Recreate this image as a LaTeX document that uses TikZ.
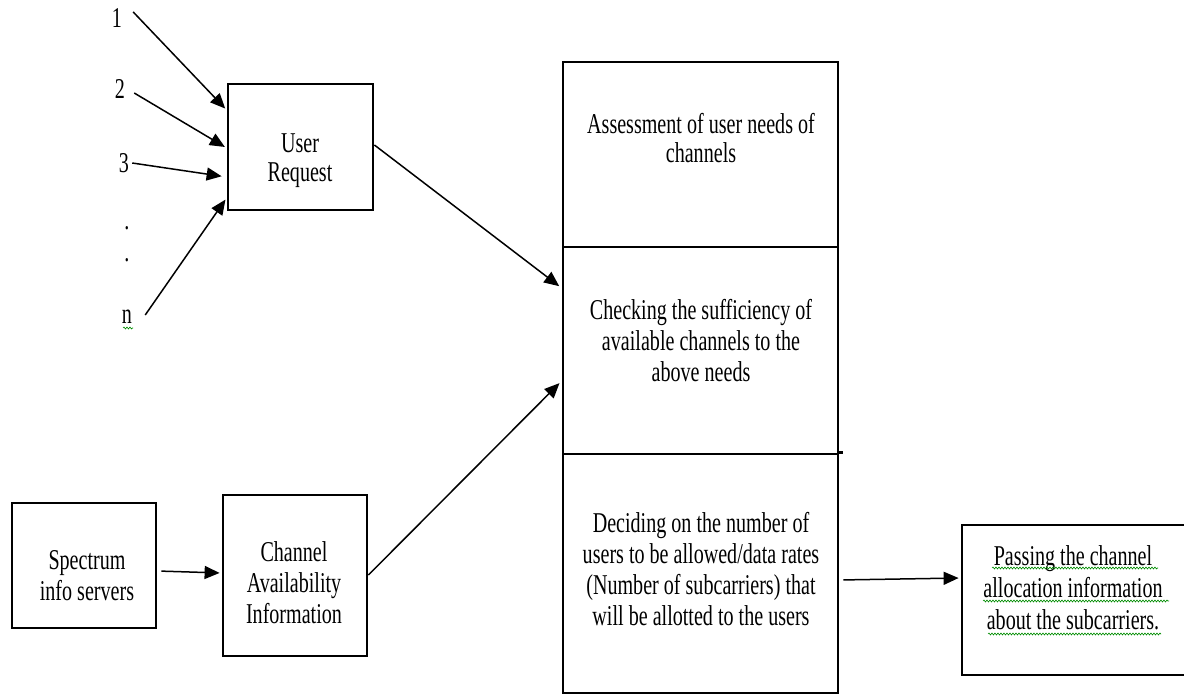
\documentclass[tikz,border=0pt]{standalone}
\usepackage{fontspec}
\setmainfont{Liberation Serif}[FakeStretch=0.7]
\usetikzlibrary{arrows.meta,decorations.pathmorphing}

\begin{document}
\begin{tikzpicture}[x=1pt,y=-1pt,
  box/.style={draw, line width=2.8pt, inner sep=0pt},
  txt/.style={align=center, font=\fontsize{28.7}{31}\selectfont, inner sep=0pt},
  num/.style={font=\fontsize{28.7}{31}\selectfont, inner sep=0pt},
  arr/.style={line width=1.5pt, -{Triangle[length=15pt,width=13pt]}},
  squiggle/.style={draw=green!55!black, line width=0.6pt, decorate,
    decoration={snake, amplitude=1pt, segment length=3pt}}]

\useasboundingbox (0,0) rectangle (1184,695);
\clip (0,0) rectangle (1184,695);

% user inputs
\node[num] (n1) at (117,18) {1};
\node[num] (n2) at (120,89) {2};
\node[num] (n3) at (124,163) {3};
\node[num] (d1) at (127,228) {.};
\node[num] (d2) at (127,260) {.};
\node[num] (nn) at (127,317) {n};

% left boxes
\node[box, minimum width=145pt, minimum height=126pt] (ur) at (300.5,147) {};
\node[txt, font=\fontsize{28.7}{29}\selectfont] (urtxt) at (300,161) {User\\Request};

\node[box, minimum width=144pt, minimum height=125pt] (sp) at (84,565.5) {};
\node[txt] (sptxt) at (87,576) {Spectrum\\info servers};

\node[box, minimum width=144pt, minimum height=161pt] (ca) at (295,575.5) {};
\node[txt] (catxt) at (294,583) {Channel\\Availability\\Information};

% central column of three stages
\node[box, minimum width=275pt, minimum height=185pt] (top) at (700.5,154.5) {};
\node[box, minimum width=275pt, minimum height=207pt] (mid) at (700.5,350.5) {};
\node[box, minimum width=275pt, minimum height=239pt] (bot) at (700.5,573.5) {};
\draw[line width=2.8pt] (bot.north east) -- ++(4,0);

\node[txt, font=\fontsize{28.7}{29}\selectfont] (toptxt) at (701,138) {Assessment of user needs of\\channels};
\node[txt] (midtxt) at (701,340.5) {Checking the sufficiency of\\available channels to the\\above needs};
\node[txt] (bottxt) at (701,569) {Deciding on the number of\\users to be allowed/data rates\\(Number of subcarriers) that\\will be allotted to the users};

% output box (runs past the right edge)
\node[box, minimum width=260pt, minimum height=150pt] (pass) at (1092,600) {};
\node[txt, font=\fontsize{28.7}{32}\selectfont] (passtxt) at (1073,588) {Passing the channel\\allocation information\\about the subcarriers.};

% spell-check squiggles
\draw[squiggle] (123,328) -- (133,328);
\draw[squiggle] (992,568) -- (1158,568);
\draw[squiggle] (983,601) -- (1169,601);
\draw[squiggle] (988,634) -- (1161,634);

% connectors
\draw[arr, shorten >=2pt] ([shift={(11,-6)}]n1.east) -- (ur.west |- 0,110);
\draw[arr, shorten >=2pt] ([shift={(9,4)}]n2.east) -- (ur.west |- 0,148);
\draw[arr, shorten >=5pt] ([shift={(3,0)}]n3.east) -- (ur.west |- 0,177);
\draw[arr, shorten >=2pt] ([shift={(13,-2)}]nn.east) -- (ur.west |- 0,198);

\draw[arr, shorten >=3pt] (ur.east |- 0,145) -- (mid.west |- 0,288);
\draw[arr, shorten >=3pt] (ca.east |- 0,575) -- (mid.west |- 0,381);
\draw[arr, shorten <=4pt, shorten >=2pt] (sp.east |- 0,571) -- (ca.west |- 0,573);
\draw[arr, shorten <=4pt, shorten >=2pt] (bot.east |- 0,580) -- (pass.west |- 0,578);

\end{tikzpicture}
\end{document}
